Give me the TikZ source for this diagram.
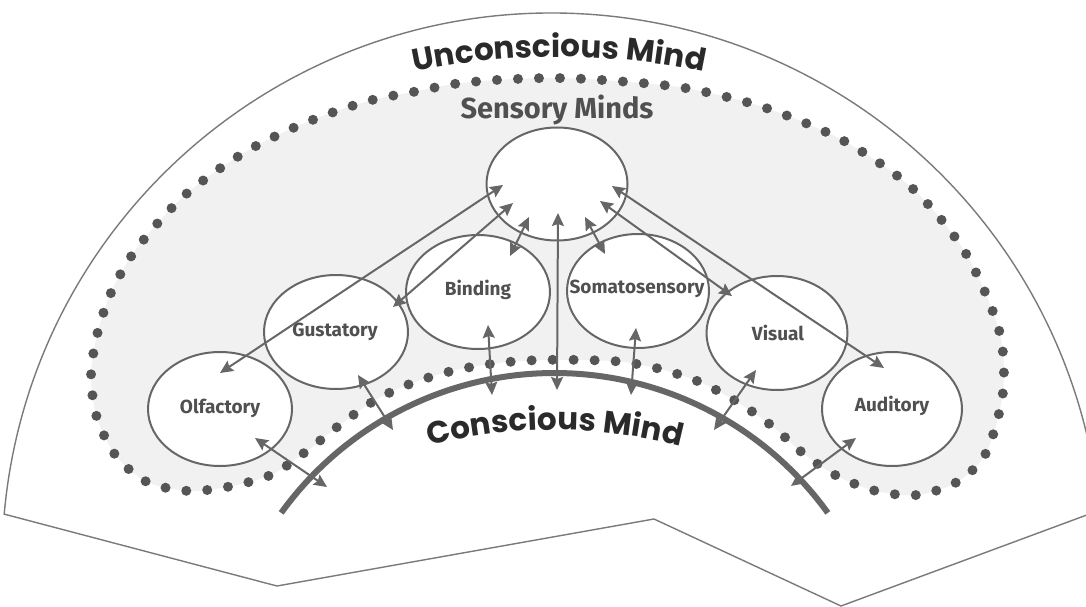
\documentclass[tikz,border=0pt]{standalone}
\usepackage{fontspec}
\setmainfont{Fira Sans}
\newfontfamily\popfont{Poppins}
\usetikzlibrary{arrows.meta,decorations.text,shapes.geometric}
\definecolor{dotcol}{HTML}{555555}
\definecolor{linecol}{HTML}{666666}
\definecolor{fancol}{HTML}{7A7A7A}
\definecolor{bgfill}{HTML}{F1F1F1}
\definecolor{labcol}{HTML}{505050}
\definecolor{bigcol}{HTML}{2A2A2A}
\newcommand{\bigfnt}{\fontsize{31}{31}\selectfont\popfont\bfseries\color{bigcol}}
\begin{document}
\begin{tikzpicture}[x=1pt,y=-1pt,
  mind/.style={ellipse, draw=linecol, line width=2pt, fill=white, minimum width=144pt, minimum height=114pt, inner sep=0pt},
  lab/.style={font=\fontsize{19}{19}\selectfont\bfseries, text=labcol, inner sep=0pt},
  arr/.style={draw=linecol, line width=2pt, {Stealth[length=13pt,width=12pt,inset=2pt]}-{Stealth[length=13pt,width=12pt,inset=2pt]}},
  dotloop/.style={draw=dotcol, line width=10pt, line cap=round, dash pattern=on 0pt off 21pt},
  fanline/.style={draw=fancol, line width=1.4pt, fill=white},
  thickarc/.style={draw=linecol, line width=6pt},
]
\useasboundingbox (0,0) rectangle (1086,607);
\clip (0,0) rectangle (1086,607);
\fill[white] (0,0) rectangle (1086,607);
% fan outline
\draw[fanline] ([shift={(-174.9:550)}]552,563) arc[start angle=-174.9, end angle=-5.5, radius=550]
  -- (841,606) -- (654,519) -- (277,586) -- cycle;
% sensory region
\def\loop{(550,78) (602,80) (685,88) (766,108) (844,141) (912,188) (965,252) (999,330) (1003,392) (986,453) (957,482) (917,495) (876,491) (837,476) (804,454) (772,426) (739,403) (702,383) (664,370) (624,362) (583,360) (540,360) (498,363) (456,370) (415,382) (377,399) (341,424) (308,450) (273,474) (232,486) (189,491) (147,482) (116,456) (97,418) (91,376) (97,335) (110,295) (130,258) (156,225) (185,195) (219,169) (254,147) (293,128) (331,113) (372,100) (413,92) (454,84) (496,80)}
\fill[bgfill] plot[smooth cycle] coordinates {\loop};
\draw[dotloop] plot[smooth cycle] coordinates {\loop};
% conscious mind arc
\draw[thickarc] ([shift={(-144.2:337)}]554.5,710) arc[start angle=-144.2, end angle=-35.8, radius=337];
% ellipses
\node[mind, minimum width=141pt, minimum height=113pt] (sens) at (557,184) {};
\node[mind] (olf) at (220,409) {};
\node[mind] (gus) at (336,332) {};
\node[mind] (bind) at (478,292) {};
\node[mind, minimum width=142pt] (soma) at (638,291) {};
\node[mind, minimum width=141pt] (vis) at (777,333) {};
\node[mind, minimum width=140pt] (aud) at (892,409) {};
% arrow end points
\coordinate (s1) at (503,185); \coordinate (o1) at (220,373);
\coordinate (s2) at (513,203); \coordinate (g1) at (393,307);
\coordinate (s3) at (529,217); \coordinate (b1) at (510,256);
\coordinate (s4) at (558,213); \coordinate (c0) at (557,390);
\coordinate (s5) at (585,217); \coordinate (m1) at (605,254);
\coordinate (s6) at (600,201); \coordinate (v1) at (732,296);
\coordinate (s7) at (612,186); \coordinate (a1) at (884,368);
\coordinate (o2) at (255,438); \coordinate (c1) at (327,487);
\coordinate (g2) at (358,375); \coordinate (c2) at (393,430);
\coordinate (b2) at (488,325); \coordinate (c3) at (492,395);
\coordinate (m2) at (636,328); \coordinate (c4) at (631,395);
\coordinate (v2) at (756,370); \coordinate (c5) at (714,430);
\coordinate (a2) at (856,438); \coordinate (c6) at (791,486);
\draw[arr] (s1) -- (o1);
\draw[arr] (s2) -- (g1);
\draw[arr] (s3) -- (b1);
\draw[arr] (s4) -- (c0);
\draw[arr] (s5) -- (m1);
\draw[arr] (s6) -- (v1);
\draw[arr] (s7) -- (a1);
\draw[arr] (o2) -- (c1);
\draw[arr] (g2) -- (c2);
\draw[arr] (b2) -- (c3);
\draw[arr] (m2) -- (c4);
\draw[arr] (v2) -- (c5);
\draw[arr] (a2) -- (c6);
% ellipse labels
\node[lab] (olflab) at (220,408) {Olfactory};
\node[lab] (guslab) at (335,332) {Gustatory};
\node[lab] (bindlab) at (478,290) {Binding};
\node[lab] (somalab) at (637,289) {Somatosensory};
\node[lab] (vislab) at (778,333) {Visual};
\node[lab] (audlab) at (892,406) {Auditory};
% titles
\node[font=\fontsize{29}{29}\selectfont\bfseries, text=labcol] (senslab) at (557,110) {Sensory Minds};
\path[decorate, decoration={text along path, text align=center, text={|\bigfnt|Unconscious Mind}}]
  ([shift={(-110:702)}]559,759) arc[start angle=-110, end angle=-70, radius=702];
\path[decorate, decoration={text along path, text align=center, text={|\bigfnt|Conscious Mind}}]
  ([shift={(-110:500)}]555,930) arc[start angle=-110, end angle=-70, radius=500];
\end{tikzpicture}
\end{document}
